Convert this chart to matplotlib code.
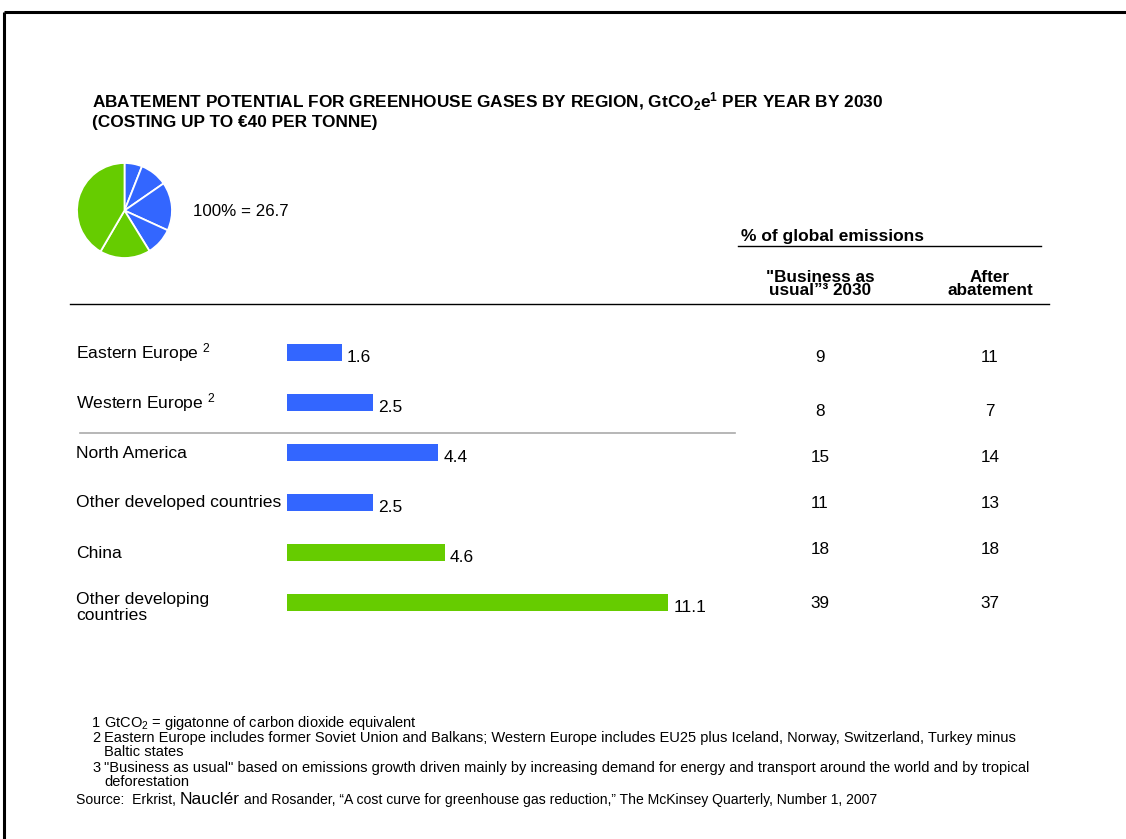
import numpy as np
import matplotlib.pyplot as plt
from matplotlib.transforms import blended_transform_factory

plt.rcParams['font.family'] = ['Liberation Sans', 'DejaVu Sans']
plt.rcParams['mathtext.fontset'] = 'custom'
plt.rcParams['mathtext.rm'] = 'Liberation Sans'
plt.rcParams['mathtext.it'] = 'Liberation Sans:italic'
plt.rcParams['mathtext.bf'] = 'Liberation Sans:bold'

# data
regions = ['Eastern Europe $^{2}$', 'Western Europe $^{2}$', 'North America',
           'Other developed countries', 'China', 'Other developing\ncountries']
abatement = [1.6, 2.5, 4.4, 2.5, 4.6, 11.1]
bau_2030 = [9, 8, 15, 11, 18, 39]
after_abatement = [11, 7, 14, 13, 18, 37]
developed = [True, True, True, True, False, False]
total = 26.7

blue = '#3366FF'
green = '#66CC00'
colors = [blue if d else green for d in developed]

W, H = 1126, 839
fig = plt.figure(figsize=(W / 100, H / 100), dpi=100)

# overlay in pixel coordinates for text and rules
ov = fig.add_axes([0, 0, 1, 1])
ov.set_xlim(0, W)
ov.set_ylim(H, 0)
ov.axis('off')

def px_axes(x0, y0, x1, y1):
    return fig.add_axes([x0 / W, 1 - y1 / H, (x1 - x0) / W, (y1 - y0) / H])

# frame
ov.plot([4, W], [12, 12], color='black', lw=2.2, solid_capstyle='butt')
ov.plot([4, 4], [12, H], color='black', lw=2.2, solid_capstyle='butt')

# title
ov.text(92, 102, r'ABATEMENT POTENTIAL FOR GREENHOUSE GASES BY REGION, GtCO$_\mathbf{2}$e$^\mathbf{1}$ PER YEAR BY 2030',
        fontsize=12.4, fontweight='bold', va='center', ha='left')
ov.text(92, 122, '(COSTING UP TO \u20ac40 PER TONNE)', fontsize=12.4, fontweight='bold',
        va='center', ha='left')

# pie
pax = px_axes(77, 163, 172, 258)
pax.pie(abatement, colors=colors, startangle=90, counterclock=False,
        wedgeprops=dict(edgecolor='white', linewidth=1.3))
pax.set_xlim(-1, 1)
pax.set_ylim(-1, 1)
pax.set_aspect('auto')
ov.text(193, 212, f'100% = {total}', fontsize=12.2, va='center', ha='left')

# right column headers
ov.text(741, 236, '% of global emissions', fontsize=12.5, fontweight='bold', va='center', ha='left')
ov.plot([738, 1041], [246, 246], color='black', lw=1)
ov.text(820, 284, '"Business as\nusual\u201d\u00b3 2030', fontsize=12.3, fontweight='bold',
        va='center', ha='center', multialignment='center', linespacing=0.9)
ov.text(990, 284, 'After\nabatement', fontsize=12.3, fontweight='bold',
        va='center', ha='center', multialignment='center', linespacing=0.9)
ov.plot([70, 1049], [304, 304], color='black', lw=1)

# bars
bax = px_axes(287, 327, 760, 627)
scale = 381 / 11.1
bax.set_xlim(0, (760 - 287) / scale)
bax.set_ylim(len(regions) - 0.5, -0.5)
bax.patch.set_alpha(0)
bax.axis('off')
y = np.arange(len(regions))
bax.barh(y, abatement, height=0.34, color=colors)
for yi, v in zip(y, abatement):
    bax.text(v + 0.15, yi + 0.12, f'{v}', fontsize=12.5, va='center', ha='left')

tr = blended_transform_factory(ov.transData, bax.transData)
for yi, name in zip(y, regions):
    if '\n' in name:
        bax.text(76, yi - 0.2, name, transform=tr, fontsize=12.6, va='top', ha='left',
                 linespacing=1.05)
    else:
        bax.text(76, yi + 0.02, name, transform=tr, fontsize=12.6, va='center', ha='left')
# small vertical nudges of the table values, as in the original layout
col_shift = [0.12, 0.2, 0.12, 0.04, -0.06, 0.04]
for yi, a, b, s in zip(y, bau_2030, after_abatement, col_shift):
    bax.text(820, yi + s, str(a), transform=tr, fontsize=12.3, va='center', ha='center')
    bax.text(990, yi + s, str(b), transform=tr, fontsize=12.3, va='center', ha='center')

# separator between Europe and rest
ov.plot([80, 735], [433, 433], color='#aaaaaa', lw=1.2)

# footnotes, one text per printed line (baseline y in pixels)
fs = 10.5
notes = [
    ('1', [r'GtCO$_2$ = gigatonne of carbon dioxide equivalent'], 727),
    ('2', ['Eastern Europe includes former Soviet Union and Balkans; Western Europe includes EU25 plus Iceland, Norway, Switzerland, Turkey minus',
           'Baltic states'], 742),
    ('3', ['"Business as usual" based on emissions growth driven mainly by increasing demand for energy and transport around the world and by tropical',
           'deforestation'], 772),
]
for num, lines, yy in notes:
    ov.text(92, yy, num, fontsize=fs, va='baseline', ha='left')
    for k, line in enumerate(lines):
        ov.text(104, yy + 14.5 * k, line, fontsize=fs, va='baseline', ha='left')

# source line, with the author name set larger as in the original
fig.canvas.draw()
r = fig.canvas.get_renderer()
x = 76
parts = [('Source:  Erkrist, ', 10.1), ('Naucl\u00e9r', 12.5),
         (' and Rosander, \u201cA cost curve for greenhouse gas reduction,\u201d The McKinsey Quarterly, Number 1, 2007', 10.1)]
for s, size in parts:
    t = ov.text(x, 804, s, fontsize=size, va='baseline', ha='left')
    bb = t.get_window_extent(renderer=r)
    x += bb.width

fig.savefig('out.png', dpi=100, facecolor='white')
